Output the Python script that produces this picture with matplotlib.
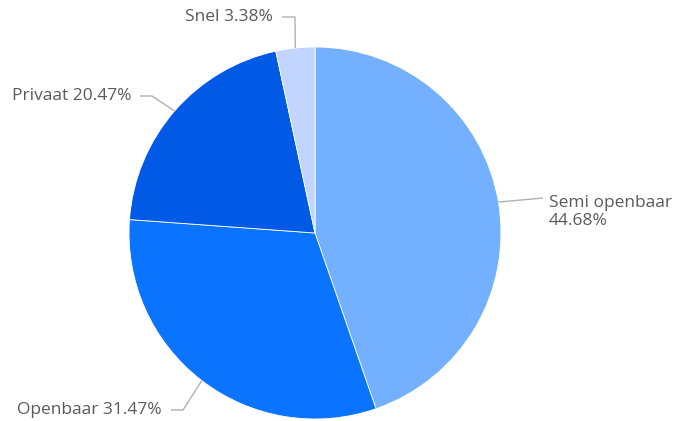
import numpy as np
import matplotlib.pyplot as plt

labels = ["Semi openbaar", "Openbaar", "Privaat", "Snel"]
shares = [44.68, 31.47, 20.47, 3.38]
colors = ["#73b0ff", "#0a74ff", "#005ae6", "#c2d5ff"]
label_texts = ["Semi openbaar\n44.68%", "Openbaar 31.47%", "Privaat 20.47%", "Snel 3.38%"]

W, H = 677, 421
fig = plt.figure(figsize=(W / 100, H / 100), dpi=100)
ax = fig.add_axes([0, 0, 1, 1])

cx, cy, r = 315, H - 233, 186
wedges, _ = ax.pie(shares, colors=colors, startangle=90, counterclock=False,
                   center=(cx, cy), radius=r, frame=True,
                   wedgeprops=dict(edgecolor="white", linewidth=0.6))
ax.set_xlim(0, W)
ax.set_ylim(0, H)
ax.set_aspect("equal")
ax.axis("off")

# label anchors (elbow point, text point, alignment)
layout = {
    "Semi openbaar": ((543, 198), (549, 212), "left"),
    "Openbaar": ((183, 410), (162, 410), "right"),
    "Privaat": ((152, 96), (131, 96), "right"),
    "Snel": ((295, 17), (273, 17), "right"),
}

txt_color = "#5a5a5a"
for w, lab, txt in zip(wedges, labels, label_texts):
    ang = np.deg2rad((w.theta1 + w.theta2) / 2)
    ex, ey = cx + r * np.cos(ang), cy + r * np.sin(ang)
    (bx, by), (tx, ty), ha = layout[lab]
    by, ty = H - by, H - ty
    xs = [ex, bx]
    ys = [ey, by]
    if ha == "right":
        xs.append(tx + 9)
        ys.append(by)
    ax.plot(xs, ys, color="#b0b0b0", lw=1, solid_capstyle="butt")
    ax.text(tx, ty, txt, ha=ha, va="center", fontsize=12.5, color=txt_color,
            family="Open Sans", linespacing=1.1)

fig.savefig("out.png", dpi=100)
